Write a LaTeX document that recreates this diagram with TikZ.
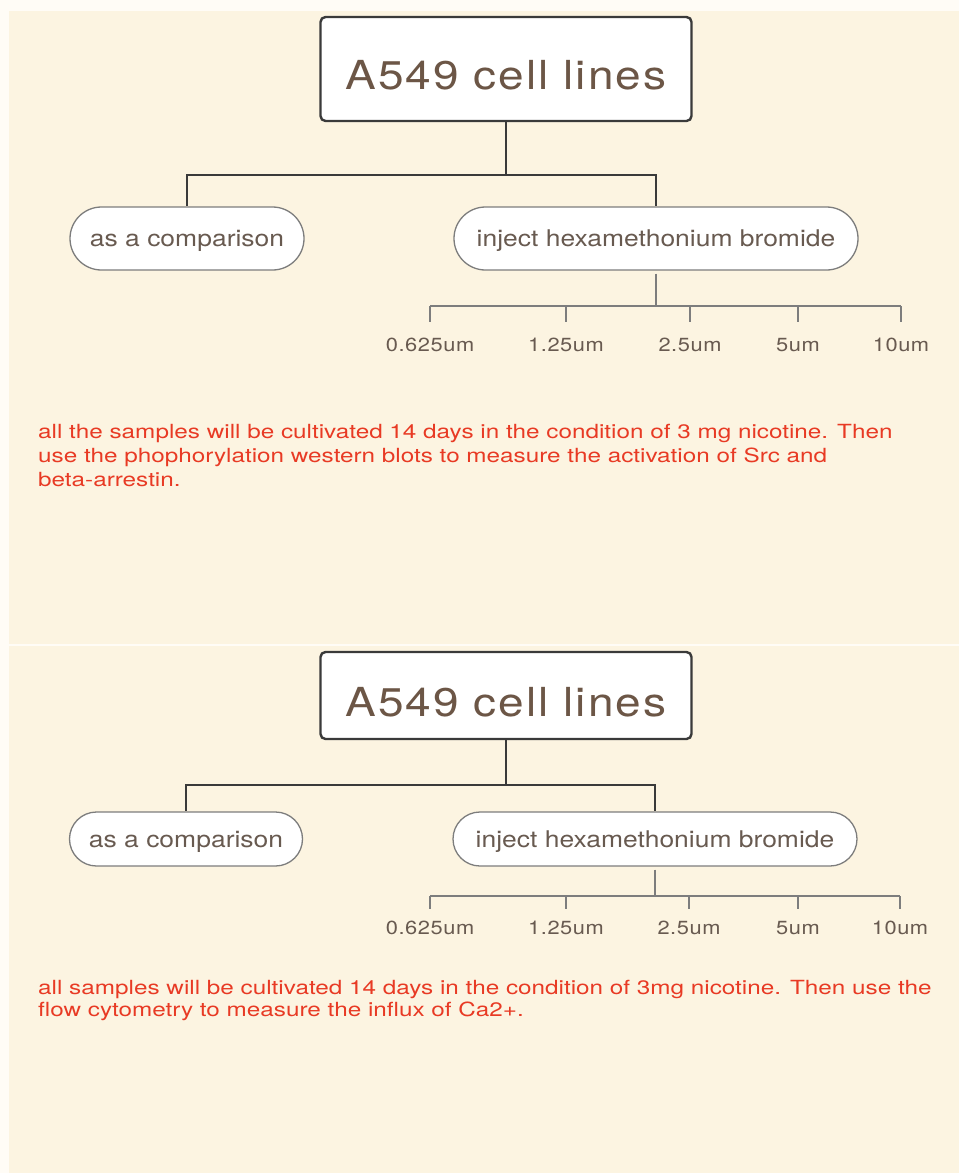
\documentclass[tikz,border=0pt]{standalone}
\usepackage{fontspec}
\setmainfont{TeX Gyre Heros}[FakeStretch=1.15]
\newfontfamily\notefont{TeX Gyre Heros}[FakeStretch=1.245]
\usepackage{xcolor}
\definecolor{panelcream}{RGB}{252,244,225}
\definecolor{edgewhite}{RGB}{255,252,246}
\definecolor{titlebrown}{RGB}{108,86,70}
\definecolor{pillbrown}{RGB}{104,90,80}
\definecolor{trunkgray}{RGB}{58,58,58}
\definecolor{twiggray}{RGB}{125,125,125}
\definecolor{notered}{RGB}{232,58,36}
\usepackage{tikz}
\usetikzlibrary{positioning,calc}

\tikzset{
  titlebox/.style={draw=trunkgray, fill=white, line width=2.4pt, rounded corners=5pt, minimum width=371pt, minimum height=#1, inner sep=0pt, text=titlebrown, font=\fontsize{40}{44}\selectfont\addfontfeatures{LetterSpace=5}, text height=41pt, text depth=0pt},
  pill/.style={draw=twiggray, fill=white, line width=1.3pt, rounded corners=#1, minimum height=2*#1, inner sep=0pt, text=pillbrown, font=\fontsize{23}{26}\selectfont, text height=16pt, text depth=0pt},
  trunk/.style={draw=trunkgray, line width=2.4pt},
  twig/.style={draw=twiggray, line width=1.4pt},
  dose/.style={inner sep=0pt, text=pillbrown, font=\fontsize{19}{22}\selectfont\addfontfeatures{LetterSpace=3}},
  note/.style={anchor=north west, inner sep=0pt, align=left, text=notered, font=\notefont\fontsize{19.5}{24}\selectfont}
}

\begin{document}
\begin{tikzpicture}[x=1pt, y=-1pt]
\useasboundingbox (0,0) rectangle (959,1173);
\fill[edgewhite] (0,0) rectangle (959,1173);
\fill[panelcream] (9,11) rectangle (959,643.5);
\fill[panelcream] (9,645.5) rectangle (959,1173);

% western blot panel
\node[titlebox=104pt] (title1) at (506,69) {A549 cell lines};
\node[pill=31.5pt, minimum width=234pt] (cmp1) at (187,238.5) {as a comparison};
\node[pill=31.5pt, minimum width=404pt] (inj1) at (656,238.5) {inject hexamethonium bromide};
\coordinate (fork1) at (506,175);
\draw[trunk] (title1.south) -- (fork1) -| (cmp1.north);
\draw[trunk] (fork1) -| (inj1.north);
\coordinate (bar1) at (656,306);
\draw[twig, shorten <=3pt] (inj1.south) -- (bar1);
\foreach \i/\x/\d in {1/430/0.625um, 2/566/1.25um, 3/690/2.5um, 4/798/5um, 5/901/10um}{
  \node[dose] (d1\i) at (\x,345) {\d};
  \draw[twig] (d1\i.north |- bar1) -- ([yshift=16pt]d1\i.north);
}
\draw[twig] (d11.north |- bar1) -- (d15.north |- bar1);
\node[note] (note1) at (38,424) {all the samples will be cultivated 14 days in the condition of 3 mg nicotine. Then\\
use the phophorylation western blots to measure the activation of Src and\\
beta-arrestin.};

% flow cytometry panel
\node[titlebox=87pt] (title2) at (506,695.5) {A549 cell lines};
\node[pill=27pt, minimum width=233pt] (cmp2) at (186,839) {as a comparison};
\node[pill=27pt, minimum width=404pt] (inj2) at (655,839) {inject hexamethonium bromide};
\coordinate (fork2) at (506,785);
\draw[trunk] (title2.south) -- (fork2) -| (cmp2.north);
\draw[trunk] (fork2) -| (inj2.north);
\coordinate (bar2) at (655,896);
\draw[twig, shorten <=3pt] (inj2.south) -- (bar2);
\foreach \i/\x/\d in {1/430/0.625um, 2/566/1.25um, 3/689/2.5um, 4/798/5um, 5/900/10um}{
  \node[dose] (d2\i) at (\x,928) {\d};
  \draw[twig] (d2\i.north |- bar2) -- ([yshift=12pt]d2\i.north);
}
\draw[twig] (d21.north |- bar2) -- (d25.north |- bar2);
\node[note] (note2) at (38,980) {all samples will be cultivated 14 days in the condition of 3mg nicotine. Then use the\\[-2pt]
flow cytometry to measure the influx of Ca2+.};
\end{tikzpicture}
\end{document}
